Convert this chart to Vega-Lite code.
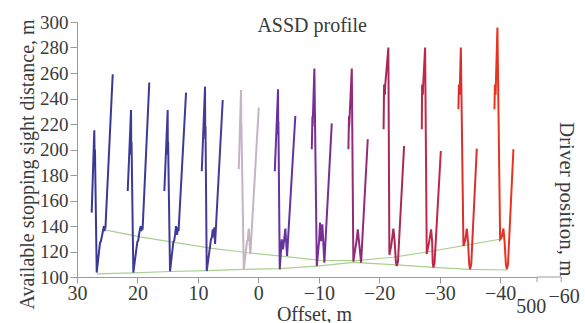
{
"$schema":"https://vega.github.io/schema/vega-lite/v6.json",
"width":460,"height":255,
"autosize":{"type":"none"},
"padding":{"left":77,"top":22,"right":48,"bottom":46},
"config":{"view":{"stroke":null},"font":"Liberation Serif",
 "axis":{"grid":false,"domainColor":"#9a9a9a","tickColor":"#9a9a9a","labelColor":"#3a3a3a","titleColor":"#3a3a3a","labelFont":"Liberation Serif","titleFont":"Liberation Serif","labelFontSize":20,"titleFontSize":20,"titleFontWeight":"normal","labelFlush":false,"labelOverlap":false}},
"datasets":{
"env":[
{"g":"upper","x":25.37,"y":137},{"g":"upper","x":19.58,"y":131.5},{"g":"upper","x":13.62,"y":127},{"g":"upper","x":7.66,"y":122.5},{"g":"upper","x":1.7,"y":119},{"g":"upper","x":-4.59,"y":116},{"g":"upper","x":-10.21,"y":113},{"g":"upper","x":-16.17,"y":112.8},{"g":"upper","x":-22.29,"y":115.5},{"g":"upper","x":-28.42,"y":120},{"g":"upper","x":-34.37,"y":125},{"g":"upper","x":-40.0,"y":129.6},
{"g":"lower","x":26.74,"y":102.5},{"g":"lower","x":20.68,"y":103.3},{"g":"lower","x":14.61,"y":104.3},{"g":"lower","x":8.54,"y":105},{"g":"lower","x":2.41,"y":106},{"g":"lower","x":-3.54,"y":106.5},{"g":"lower","x":-9.67,"y":108.5},{"g":"lower","x":-15.72,"y":111.5},{"g":"lower","x":-22.9,"y":109.5},{"g":"lower","x":-28.96,"y":107.5},{"g":"lower","x":-35.03,"y":106},{"g":"lower","x":-41.11,"y":105.5}
],
"curves":[
{"c":1,"i":0,"x":27.57,"y":150.5},{"c":1,"i":1,"x":27.14,"y":215},{"c":1,"i":2,"x":27.08,"y":188},{"c":1,"i":3,"x":27.03,"y":200},{"c":1,"i":4,"x":26.74,"y":103.5},{"c":1,"i":5,"x":26.19,"y":127},{"c":1,"i":6,"x":26.05,"y":128},{"c":1,"i":7,"x":25.75,"y":135},{"c":1,"i":8,"x":25.55,"y":140},{"c":1,"i":9,"x":25.45,"y":136},{"c":1,"i":10,"x":25.35,"y":140},{"c":1,"i":11,"x":25.3,"y":138},{"c":1,"i":12,"x":24.09,"y":259},
{"c":2,"i":0,"x":21.61,"y":167.5},{"c":2,"i":1,"x":21.06,"y":231},{"c":2,"i":2,"x":21.02,"y":196},{"c":2,"i":3,"x":20.98,"y":206},{"c":2,"i":4,"x":20.68,"y":103.5},{"c":2,"i":5,"x":20.02,"y":127.5},{"c":2,"i":6,"x":19.88,"y":128.5},{"c":2,"i":7,"x":19.69,"y":134.8},{"c":2,"i":8,"x":19.46,"y":140},{"c":2,"i":9,"x":19.36,"y":136},{"c":2,"i":10,"x":19.24,"y":139.8},{"c":2,"i":11,"x":19.15,"y":137},{"c":2,"i":12,"x":18.04,"y":252.5},
{"c":3,"i":0,"x":15.55,"y":167.5},{"c":3,"i":1,"x":15.0,"y":231},{"c":3,"i":2,"x":14.97,"y":196},{"c":3,"i":3,"x":14.93,"y":206},{"c":3,"i":4,"x":14.61,"y":104.5},{"c":3,"i":5,"x":14.06,"y":127.5},{"c":3,"i":6,"x":13.92,"y":128.5},{"c":3,"i":7,"x":13.78,"y":133},{"c":3,"i":8,"x":13.62,"y":140},{"c":3,"i":9,"x":13.45,"y":133},{"c":3,"i":10,"x":13.29,"y":139},{"c":3,"i":11,"x":13.2,"y":136},{"c":3,"i":12,"x":11.96,"y":244.6},
{"c":4,"i":0,"x":9.36,"y":183},{"c":4,"i":1,"x":8.82,"y":249.3},{"c":4,"i":2,"x":8.78,"y":208},{"c":4,"i":3,"x":8.74,"y":218},{"c":4,"i":4,"x":8.54,"y":104.7},{"c":4,"i":5,"x":7.83,"y":129.6},{"c":4,"i":6,"x":7.7,"y":131},{"c":4,"i":7,"x":7.54,"y":137.4},{"c":4,"i":8,"x":7.41,"y":131},{"c":4,"i":9,"x":7.28,"y":139},{"c":4,"i":10,"x":7.16,"y":126},{"c":4,"i":11,"x":5.89,"y":238.8},
{"c":5,"i":0,"x":3.24,"y":184.5},{"c":5,"i":1,"x":2.86,"y":246.7},{"c":5,"i":2,"x":2.83,"y":210},{"c":5,"i":3,"x":2.8,"y":220},{"c":5,"i":4,"x":2.41,"y":106},{"c":5,"i":5,"x":1.87,"y":128.2},{"c":5,"i":6,"x":1.75,"y":129},{"c":5,"i":7,"x":1.59,"y":138},{"c":5,"i":8,"x":1.32,"y":117.8},{"c":5,"i":9,"x":-0.07,"y":232.9},
{"c":6,"i":0,"x":-2.72,"y":183},{"c":6,"i":1,"x":-3.26,"y":247.2},{"c":6,"i":2,"x":-3.29,"y":212},{"c":6,"i":3,"x":-3.32,"y":222},{"c":6,"i":4,"x":-3.54,"y":106},{"c":6,"i":5,"x":-3.87,"y":129.6},{"c":6,"i":6,"x":-4.09,"y":121.7},{"c":6,"i":7,"x":-4.47,"y":138},{"c":6,"i":8,"x":-4.75,"y":116.5},{"c":6,"i":9,"x":-6.12,"y":226.3},
{"c":7,"i":0,"x":-8.84,"y":200.2},{"c":7,"i":1,"x":-8.95,"y":226},{"c":7,"i":2,"x":-8.98,"y":218},{"c":7,"i":3,"x":-9.27,"y":263.5},{"c":7,"i":4,"x":-9.67,"y":108.6},{"c":7,"i":5,"x":-10.05,"y":128.2},{"c":7,"i":6,"x":-10.21,"y":142.7},{"c":7,"i":7,"x":-10.38,"y":128},{"c":7,"i":8,"x":-10.59,"y":141.3},{"c":7,"i":9,"x":-10.92,"y":111.3},{"c":7,"i":10,"x":-12.15,"y":220.5},
{"c":8,"i":0,"x":-14.9,"y":200.2},{"c":8,"i":1,"x":-15.0,"y":226},{"c":8,"i":2,"x":-15.03,"y":218},{"c":8,"i":3,"x":-15.46,"y":263.5},{"c":8,"i":4,"x":-15.72,"y":112.1},{"c":8,"i":5,"x":-16.28,"y":129.6},{"c":8,"i":6,"x":-16.45,"y":137.4},{"c":8,"i":7,"x":-16.67,"y":127},{"c":8,"i":8,"x":-17.0,"y":111.3},{"c":8,"i":9,"x":-18.1,"y":208},
{"c":9,"i":0,"x":-20.72,"y":215.8},{"c":9,"i":1,"x":-20.8,"y":251},{"c":9,"i":2,"x":-20.94,"y":243},{"c":9,"i":3,"x":-20.98,"y":250},{"c":9,"i":4,"x":-21.51,"y":280},{"c":9,"i":5,"x":-21.68,"y":117.5},{"c":9,"i":6,"x":-22.0,"y":125},{"c":9,"i":7,"x":-22.34,"y":138},{"c":9,"i":8,"x":-22.55,"y":128},{"c":9,"i":9,"x":-22.75,"y":112},{"c":9,"i":10,"x":-22.9,"y":108.6},{"c":9,"i":11,"x":-23.1,"y":112},{"c":9,"i":12,"x":-24.11,"y":202.7},
{"c":10,"i":0,"x":-27.04,"y":215.8},{"c":10,"i":1,"x":-27.09,"y":251},{"c":10,"i":2,"x":-27.22,"y":243},{"c":10,"i":3,"x":-27.26,"y":250},{"c":10,"i":4,"x":-27.59,"y":280},{"c":10,"i":5,"x":-27.86,"y":118},{"c":10,"i":6,"x":-28.2,"y":126},{"c":10,"i":7,"x":-28.58,"y":137.4},{"c":10,"i":8,"x":-28.75,"y":128},{"c":10,"i":9,"x":-28.85,"y":111},{"c":10,"i":10,"x":-28.96,"y":107.4},{"c":10,"i":11,"x":-29.15,"y":111},{"c":10,"i":12,"x":-30.19,"y":198.8},
{"c":11,"i":0,"x":-33.1,"y":231.5},{"c":11,"i":1,"x":-33.18,"y":251},{"c":11,"i":2,"x":-33.3,"y":243},{"c":11,"i":3,"x":-33.34,"y":250},{"c":11,"i":4,"x":-33.5,"y":280},{"c":11,"i":5,"x":-33.93,"y":124.3},{"c":11,"i":6,"x":-34.2,"y":128},{"c":11,"i":7,"x":-34.49,"y":138},{"c":11,"i":8,"x":-34.7,"y":127},{"c":11,"i":9,"x":-34.88,"y":110},{"c":11,"i":10,"x":-35.03,"y":106},{"c":11,"i":11,"x":-35.22,"y":110},{"c":11,"i":12,"x":-36.14,"y":200.7},
{"c":12,"i":0,"x":-39.06,"y":231.5},{"c":12,"i":1,"x":-39.14,"y":251},{"c":12,"i":2,"x":-39.25,"y":243},{"c":12,"i":3,"x":-39.29,"y":250},{"c":12,"i":4,"x":-39.55,"y":295.6},{"c":12,"i":5,"x":-40.0,"y":129.6},{"c":12,"i":6,"x":-40.25,"y":131},{"c":12,"i":7,"x":-40.55,"y":138},{"c":12,"i":8,"x":-40.75,"y":127},{"c":12,"i":9,"x":-40.95,"y":110},{"c":12,"i":10,"x":-41.11,"y":106},{"c":12,"i":11,"x":-41.3,"y":110},{"c":12,"i":12,"x":-42.2,"y":200.2}
],
"title":[{"t":"ASSD profile","x":-8.9,"y":292}],
"corner":[{"t":"500","x":-45.13,"y":72},{"t":"−60","x":-50.6,"y":80}],
"side":[{"t":"Driver position, m","x":-50.9,"y":161}],
"seg":[{"x":-46.1,"x2":-50.1,"y":100,"y2":100},{"x":-46.1,"x2":-46.1,"y":100,"y2":96},{"x":-50.1,"x2":-50.1,"y":100,"y2":96}]
},
"encoding":{
  "x":{"field":"x","type":"quantitative","scale":{"domain":[-46.1,30],"reverse":true,"nice":false,"zero":false},
   "axis":{"values":[30,20,10,0,-10,-20,-30,-40],"title":"Offset, m","tickSize":6,"labelPadding":0,"titlePadding":1,"titleX":237,"labelOverlap":false}},
  "y":{"field":"y","type":"quantitative","scale":{"domain":[100,300],"nice":false,"zero":false},
   "axis":{"values":[100,120,140,160,180,200,220,240,260,280,300],"tickCount":11,"title":"Available stopping sight distance, m","tickSize":7,"labelPadding":2,"titlePadding":2,"titleY":142,"labelFontSize":19,"labelOverlap":false}}
},
"layer":[
{"data":{"name":"env"},"mark":{"type":"line","color":"#a9d08f","strokeWidth":1.2},
 "encoding":{"detail":{"field":"g","type":"nominal"}}},
{"data":{"name":"curves"},"mark":{"type":"line","strokeWidth":2},
 "encoding":{
  "color":{"field":"c","type":"nominal","legend":null,"scale":{"domain":[1,2,3,4,5,6,7,8,9,10,11,12],"range":["#383896","#3a3a98","#3e3a98","#463a98","#c4b4c4","#6632a0","#7a2e94","#932a78","#a82858","#c02848","#d8302e","#e8341e"]}},
  "order":{"field":"i","type":"quantitative"}}},
{"data":{"name":"seg"},"mark":{"type":"rule","color":"#9a9a9a","strokeWidth":1},
 "encoding":{"x2":{"field":"x2"},"y2":{"field":"y2"}}},
{"data":{"name":"title"},"mark":{"type":"text","font":"Liberation Serif","fontSize":20,"color":"#3a3a3a","align":"center","baseline":"alphabetic"},
 "encoding":{"text":{"field":"t"}}},
{"data":{"name":"corner"},"mark":{"type":"text","font":"Liberation Serif","fontSize":20,"color":"#3a3a3a","align":"center","baseline":"alphabetic"},
 "encoding":{"text":{"field":"t"}}},
{"data":{"name":"side"},"mark":{"type":"text","font":"Liberation Serif","fontSize":21,"color":"#3a3a3a","align":"center","baseline":"middle","angle":90},
 "encoding":{"text":{"field":"t"}}}
]
}
